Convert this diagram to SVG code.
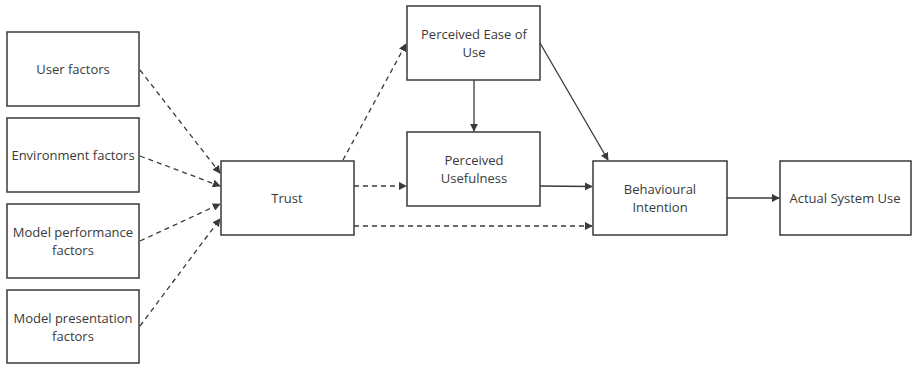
<svg xmlns="http://www.w3.org/2000/svg" width="913" height="365" viewBox="0 0 913 365">
<style>
.box{fill:#fff;stroke:#3a3a3a;stroke-width:1.5}
.t{font-family:"Open Sans","Noto Sans",sans-serif;font-size:13px;fill:#3a3a3a;text-anchor:middle;dominant-baseline:central}
.c{fill:none;stroke:#3a3a3a;stroke-width:1.3}
.d{stroke-dasharray:5,4}
</style>
<defs>
<marker id="ah" viewBox="0 0 10 10" refX="9" refY="5" markerWidth="8" markerHeight="8" markerUnits="userSpaceOnUse" orient="auto">
<path d="M0,0 L10,5 L0,10 z" fill="#3a3a3a"/>
</marker>
</defs>
<rect width="913" height="365" fill="#fff"/>
<g id="user"><rect class="box" x="7" y="32" width="132" height="74"/><text class="t" x="73" y="69">User factors</text></g>
<g id="env"><rect class="box" x="7" y="118" width="132" height="74"/><text class="t" x="73" y="155">Environment factors</text></g>
<g id="perf"><rect class="box" x="7" y="204" width="132" height="74"/><text class="t" x="73" y="232">Model performance</text><text class="t" x="73" y="250">factors</text></g>
<g id="pres"><rect class="box" x="7" y="290" width="132" height="73"/><text class="t" x="73" y="318">Model presentation</text><text class="t" x="73" y="336">factors</text></g>
<g id="trust"><rect class="box" x="221" y="161" width="133" height="74"/><text class="t" x="287" y="198">Trust</text></g>
<g id="peou"><rect class="box" x="407" y="6" width="133" height="74"/><text class="t" x="474" y="34">Perceived Ease of</text><text class="t" x="474" y="52">Use</text></g>
<g id="pu"><rect class="box" x="407" y="132" width="133" height="74"/><text class="t" x="474" y="160">Perceived</text><text class="t" x="474" y="178">Usefulness</text></g>
<g id="bi"><rect class="box" x="593" y="161" width="134" height="74"/><text class="t" x="660" y="189">Behavioural</text><text class="t" x="660" y="207">Intention</text></g>
<g id="asu"><rect class="box" x="780" y="161" width="131" height="74"/><text class="t" x="845" y="198">Actual System Use</text></g>
<g id="connectors">
<path class="c d" d="M140,70 L220,173" marker-end="url(#ah)"/>
<path class="c d" d="M140,156 L220,186" marker-end="url(#ah)"/>
<path class="c d" d="M140,241 L220,204" marker-end="url(#ah)"/>
<path class="c d" d="M140,326 L220,219" marker-end="url(#ah)"/>
<path class="c d" d="M343,160 L406,44" marker-end="url(#ah)"/>
<path class="c d" d="M354,186 L406,186" marker-end="url(#ah)"/>
<path class="c d" d="M354,226 L592,226" marker-end="url(#ah)"/>
<path class="c" d="M474,80 L474,131" marker-end="url(#ah)"/>
<path class="c" d="M540,186 L592,186.5" marker-end="url(#ah)"/>
<path class="c" d="M540,43 L608,160" marker-end="url(#ah)"/>
<path class="c" d="M727,198 L779,198" marker-end="url(#ah)"/>
</g>
</svg>
